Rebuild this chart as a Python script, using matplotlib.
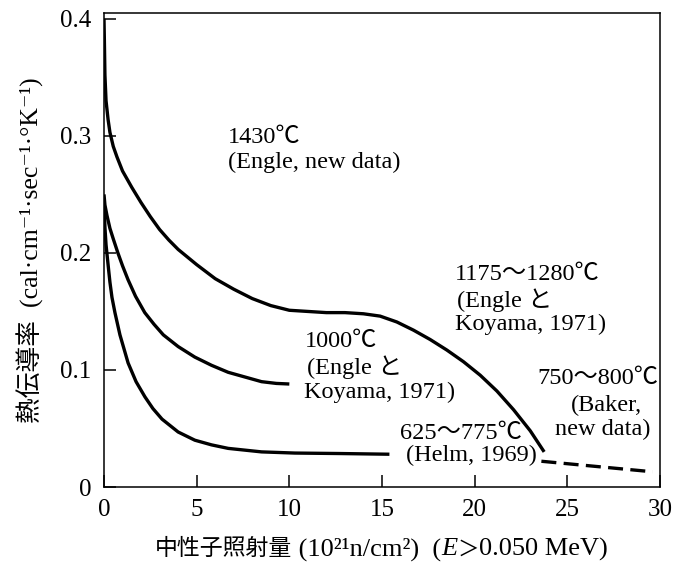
import matplotlib
matplotlib.use("Agg")
import matplotlib.pyplot as plt
from matplotlib.offsetbox import TextArea, HPacker, AnchoredOffsetbox

SERIF = ["Liberation Serif", "Noto Sans CJK JP", "DejaVu Serif"]
plt.rcParams["font.family"] = SERIF

# 1430℃ (Engle, new data) running into 1175～1280℃ (Engle と Koyama)
hi_x = [0.0, 0.02, 0.05, 0.11, 0.22, 0.32, 0.5, 0.7, 1.0, 1.5, 2.0, 2.5, 3.0, 3.5,
        4.0, 5.0, 6.0, 7.0, 8.0, 9.0, 10.0, 11.0, 12.0, 13.0, 14.0, 14.9, 15.8,
        16.7, 17.6, 18.5, 19.4, 20.3, 21.2, 22.1, 23.0, 23.75]
hi_y = [0.40, 0.382, 0.352, 0.330, 0.314, 0.303, 0.291, 0.282, 0.270, 0.256,
        0.243, 0.231, 0.220, 0.211, 0.203, 0.190, 0.178, 0.169, 0.161, 0.155,
        0.151, 0.150, 0.149, 0.149, 0.148, 0.146, 0.141, 0.134, 0.126, 0.117,
        0.107, 0.0955, 0.082, 0.066, 0.048, 0.030]

# 1000℃ (Engle と Koyama, 1971)
mid_x = [0.0, 0.05, 0.16, 0.32, 0.5, 0.75, 1.0, 1.3, 1.7, 2.2, 2.7, 3.2, 4.0,
         4.9, 5.8, 6.7, 7.6, 8.5, 9.3, 10.0]
mid_y = [0.25, 0.241, 0.232, 0.221, 0.212, 0.200, 0.189, 0.177, 0.163, 0.149,
         0.139, 0.130, 0.120, 0.111, 0.104, 0.098, 0.094, 0.090, 0.0885, 0.088]

# 625～775℃ (Helm, 1969)
low_x = [0.0, 0.05, 0.11, 0.22, 0.32, 0.43, 0.59, 0.86, 1.3, 1.73, 2.21, 2.64,
         3.13, 4.0, 4.9, 5.8, 6.7, 8.5, 10.3, 12.7, 15.4]
low_y = [0.245, 0.222, 0.207, 0.190, 0.175, 0.162, 0.149, 0.130, 0.106, 0.090,
         0.077, 0.067, 0.058, 0.047, 0.040, 0.036, 0.033, 0.030, 0.029, 0.0286,
         0.028]

# 750～800℃ (Baker, new data), dashed
bak_x = [23.6, 26.6, 29.6]
bak_y = [0.022, 0.0175, 0.013]

x_ticks = [0, 5, 10, 15, 20, 25, 30]
y_ticks = [0, 0.1, 0.2, 0.3, 0.4]
y_tick_labels = ["0", "0.1", "0.2", "0.3", "0.4"]

# annotation lines: (text, x, y, ha)
notes = [
    ("1430℃", 6.69, 0.299, "left"),
    ("(Engle, new data)", 6.69, 0.277, "left"),
    ("1175～1280℃", 18.94, 0.182, "left"),
    ("(Engle と", 19.05, 0.160, "left"),
    ("Koyama, 1971)", 18.94, 0.139, "left"),
    ("1000℃", 10.85, 0.124, "left"),
    ("(Engle と", 10.95, 0.102, "left"),
    ("Koyama, 1971)", 10.80, 0.081, "left"),
    ("750～800℃", 26.66, 0.093, "center"),
    ("(Baker,", 27.10, 0.070, "center"),
    ("new data)", 26.90, 0.049, "center"),
    ("625～775℃", 15.97, 0.046, "left"),
    ("(Helm, 1969)", 16.30, 0.027, "left"),
]

fig = plt.figure(figsize=(6.74, 5.65), dpi=100)
ax = fig.add_axes([104 / 674, 1 - 487 / 565, 556 / 674, 474 / 565])

lw = 2.4
style = dict(color="black", lw=lw, solid_capstyle="butt", solid_joinstyle="round")
ax.plot(hi_x, hi_y, **style)
ax.plot(mid_x, mid_y, **style)
ax.plot(low_x, low_y, **style)
ax.plot(bak_x, bak_y, color="black", lw=lw, dashes=(4.5, 2.2))

ax.set_xlim(0, 30)
ax.set_ylim(0, 0.405)
ax.set_xticks(x_ticks)
ax.set_yticks(y_ticks, labels=y_tick_labels)
ax.tick_params(direction="in", length=8.5, width=1.1, labelsize=18, pad=9)

for spine in ax.spines.values():
    spine.set_linewidth(1.1)

for text, x, y, ha in notes:
    ax.text(x, y, text, ha=ha, va="center", fontsize=17.5)

ax.set_ylabel("熱伝導率  (cal·cm⁻¹·sec⁻¹·°K⁻¹)", fontsize=18.5, labelpad=12)

# x label with italic E, built from pieces
pieces = [
    TextArea("中性子照射量", textprops=dict(fontsize=16.5, family=SERIF)),
    TextArea(" (10²¹n/cm²)  (", textprops=dict(fontsize=19, family=SERIF)),
    TextArea("E", textprops=dict(fontsize=19, family=SERIF, style="italic")),
    TextArea("＞", textprops=dict(fontsize=15.5, family=SERIF)),
    TextArea("0.050 MeV)", textprops=dict(fontsize=19, family=SERIF)),
]
row = HPacker(children=pieces, align="baseline", pad=0, sep=0)
box = AnchoredOffsetbox(loc="center", child=row, pad=0, borderpad=0, frameon=False,
                        bbox_to_anchor=(381 / 674, 1 - 549 / 565),
                        bbox_transform=fig.transFigure)
fig.add_artist(box)

fig.savefig("out.png", dpi=100)
